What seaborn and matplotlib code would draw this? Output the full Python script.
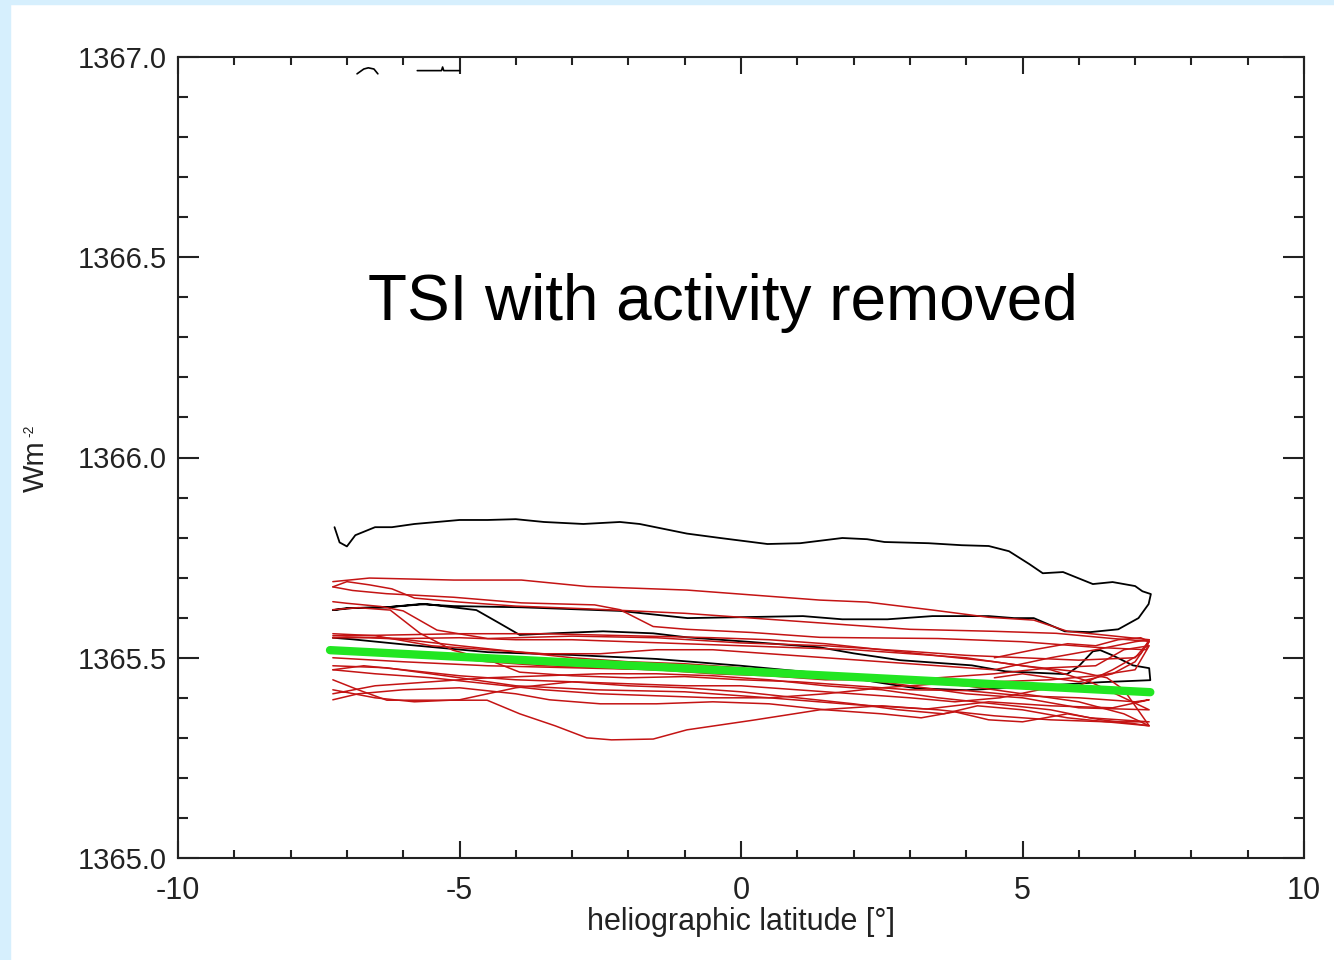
import numpy as np
import pandas as pd
import matplotlib
matplotlib.use("Agg")
import matplotlib.pyplot as plt
from matplotlib.ticker import MultipleLocator, FormatStrFormatter
import seaborn as sns

# ---------------- data (heliographic latitude [deg], TSI [W m^-2]) ----------------
black_lat = [-7.22, -7.13, -7.0, -6.85, -6.5, -6.2, -5.8, -5.0, -4.5, -4.0, -3.5, -2.8, -2.15, -1.8,
             -0.96, -0.37, 0.47, 1.05, 1.80, 2.24, 2.55, 3.33, 3.92, 4.40, 4.76, 5.12, 5.36, 5.72,
             6.25, 6.6, 7.0, 7.13, 7.28, 7.24, 7.06, 6.7, 6.2, 5.75, 5.5, 5.2, 4.85, 4.4, 3.4, 2.6,
             1.8, 1.1, -0.95, -2.15, -3.9, -5.1, -5.7, -6.3, -6.9, -7.25,
             -7.0, -6.3, -5.6, -4.7, -4.3, -3.93, -3.34, -2.45, -1.56, -0.96, 0.21, 1.4, 2.0, 2.82,
             4.1, 4.7, 5.79, 6.0, 6.25, 6.38, 6.6, 6.96, 7.25, 7.27,
             6.4, 5.0, 4.0, 3.1, 2.5, 1.5, 0.0, -1.5, -3.0, -4.5, -5.9, -6.9, -7.25]
black_tsi = [1365.826, 1365.788, 1365.778, 1365.806, 1365.826, 1365.826, 1365.834, 1365.844, 1365.844,
             1365.846, 1365.839, 1365.834, 1365.839, 1365.834, 1365.810, 1365.799, 1365.784, 1365.786,
             1365.799, 1365.796, 1365.789, 1365.786, 1365.781, 1365.779, 1365.766, 1365.734, 1365.711,
             1365.714, 1365.684, 1365.689, 1365.679, 1365.666, 1365.659, 1365.634, 1365.599, 1365.571,
             1365.564, 1365.566, 1365.581, 1365.599, 1365.599, 1365.604, 1365.604, 1365.596, 1365.596,
             1365.604, 1365.599, 1365.617, 1365.626, 1365.629, 1365.634, 1365.626, 1365.624, 1365.619,
             1365.624, 1365.626, 1365.634, 1365.619, 1365.587, 1365.557, 1365.561, 1365.566, 1365.561,
             1365.551, 1365.539, 1365.526, 1365.511, 1365.494, 1365.481, 1365.466, 1365.459, 1365.479,
             1365.516, 1365.519, 1365.506, 1365.481, 1365.474, 1365.444,
             1365.439, 1365.427, 1365.419, 1365.424, 1365.437, 1365.460, 1365.480, 1365.497, 1365.507,
             1365.514, 1365.532, 1365.546, 1365.550]

# fragments of a record that lies almost entirely above the plotted range
black2_lat = [-6.82, -6.70, -6.62, -6.52, -6.45]
black2_tsi = [1366.958, 1366.970, 1366.973, 1366.970, 1366.958]
black3_lat = [-5.75, -5.45, -5.32, -5.30, -5.28, -5.0]
black3_tsi = [1366.966, 1366.966, 1366.966, 1366.975, 1366.966, 1366.966]

red1_lat = [-7.25, -6.6, -5.1, -3.9, -2.74, -0.96, 1.4, 2.24, 3.41, 4.4, 5.2, 5.8, 6.5, 7.25,
            7.2, 6.3, 5.0, 3.5, 2.0, 1.4, 0.2, -0.96, -1.56, -2.15, -2.6, -3.9, -5.1, -6.3, -6.9, -7.25]
red1_tsi = [1365.690, 1365.699, 1365.694, 1365.694, 1365.678, 1365.669, 1365.644, 1365.639, 1365.619,
            1365.601, 1365.594, 1365.566, 1365.556, 1365.545,
            1365.520, 1365.526, 1365.540, 1365.548, 1365.550, 1365.551, 1365.563, 1365.571, 1365.578,
            1365.620, 1365.632, 1365.637, 1365.651, 1365.660, 1365.668, 1365.677]

red2_lat = [-7.25, -7.0, -6.6, -6.2, -5.8, -5.0, -4.0, -2.7, -1.0, 0.2, 1.5, 3.0, 4.5, 5.6, 6.6, 7.25,
            7.0, 6.0, 5.0, 4.0, 3.0, 1.5, 0.0, -1.5, -3.0, -4.5, -5.4, -6.0, -6.4, -7.0, -7.25]
red2_tsi = [1365.677, 1365.690, 1365.682, 1365.672, 1365.649, 1365.639, 1365.629, 1365.622, 1365.611,
            1365.599, 1365.586, 1365.571, 1365.566, 1365.561, 1365.548, 1365.541,
            1365.500, 1365.494, 1365.500, 1365.506, 1365.516, 1365.530, 1365.537, 1365.550, 1365.554,
            1365.548, 1365.569, 1365.617, 1365.628, 1365.636, 1365.640]

red3_lat = [-7.25, -6.8, -6.23, -5.70, -5.12, -4.51, -3.93, -3.0, -2.0, -1.0, 0.0, 1.0, 2.0, 3.0, 4.0,
            5.0, 6.0, 7.0, 7.25, 6.6, 5.5, 4.4, 3.3, 2.0, 0.5, -1.0, -2.6, -4.0, -5.0, -6.3, -7.25]
red3_tsi = [1365.620, 1365.625, 1365.619, 1365.561, 1365.519, 1365.496, 1365.464, 1365.455, 1365.450,
            1365.453, 1365.445, 1365.440, 1365.430, 1365.420, 1365.418, 1365.405, 1365.400, 1365.390,
            1365.395, 1365.375, 1365.380, 1365.390, 1365.372, 1365.383, 1365.400, 1365.415, 1365.420,
            1365.430, 1365.450, 1365.475, 1365.480]

red4_lat = [-7.25, -6.8, -6.29, -5.5, -4.51, -3.93, -3.3, -2.74, -2.3, -1.56, -0.96, 0.21, 1.4, 2.5,
            3.5, 4.5, 5.5, 6.5, 7.25, 6.8, 6.0, 5.0, 4.0, 3.0, 2.0, 1.0, 0.0, -1.5, -3.0, -4.5, -6.0, -7.25]
red4_tsi = [1365.445, 1365.420, 1365.394, 1365.394, 1365.394, 1365.360, 1365.330, 1365.300, 1365.295,
            1365.297, 1365.320, 1365.344, 1365.370, 1365.380, 1365.370, 1365.355, 1365.345, 1365.340,
            1365.330, 1365.360, 1365.390, 1365.410, 1365.430, 1365.440, 1365.450, 1365.460, 1365.465,
            1365.470, 1365.475, 1365.480, 1365.490, 1365.500]

red5_lat = [-7.25, -6.6, -6.0, -5.0, -4.0, -3.0, -2.0, -1.0, 0.0, 1.0, 2.0, 3.0, 4.0, 5.0, 6.0, 7.25,
            6.8, 6.2, 5.5, 4.5, 3.5, 2.5, 1.5, 0.5, -0.5, -2.0, -3.5, -5.0, -6.5, -7.25]
red5_tsi = [1365.550, 1365.550, 1365.546, 1365.530, 1365.515, 1365.500, 1365.490, 1365.485, 1365.475,
            1365.460, 1365.450, 1365.430, 1365.410, 1365.400, 1365.375, 1365.370,
            1365.400, 1365.440, 1365.470, 1365.490, 1365.505, 1365.520, 1365.535, 1365.545, 1365.550,
            1365.555, 1365.560, 1365.560, 1365.556, 1365.555]

red6_lat = [-7.25, -6.5, -5.5, -4.5, -3.5, -2.5, -1.5, -0.5, 0.5, 1.5, 2.5, 3.5, 4.5, 5.5, 6.2, 7.25,
            6.5, 5.8, 5.0, 4.2, 3.6, 2.8, 2.0, 1.0, 0.0, -1.0, -2.0, -3.0, -4.0, -5.0, -5.8, -6.5, -7.25]
red6_tsi = [1365.410, 1365.430, 1365.440, 1365.450, 1365.455, 1365.460, 1365.460, 1365.455, 1365.445,
            1365.430, 1365.420, 1365.400, 1365.385, 1365.370, 1365.350, 1365.340,
            1365.340, 1365.350, 1365.370, 1365.380, 1365.360, 1365.370, 1365.385, 1365.400, 1365.415,
            1365.425, 1365.430, 1365.440, 1365.425, 1365.395, 1365.390, 1365.400, 1365.420]

red7_lat = [-7.25, -6.5, -5.5, -4.5, -3.5, -2.5, -1.5, -0.5, 0.5, 1.5, 2.5, 3.5, 4.5, 5.5, 6.3, 6.8,
            7.25, 7.0, 6.3, 5.5, 4.5, 3.5, 2.5, 1.5, 0.5, -0.5, -1.5, -2.5, -3.5, -4.5, -5.5, -6.5, -7.25]
red7_tsi = [1365.520, 1365.520, 1365.505, 1365.490, 1365.480, 1365.475, 1365.470, 1365.460, 1365.455,
            1365.445, 1365.445, 1365.450, 1365.460, 1365.475, 1365.480, 1365.520, 1365.530,
            1365.470, 1365.455, 1365.445, 1365.440, 1365.435, 1365.425, 1365.410, 1365.400, 1365.400,
            1365.405, 1365.410, 1365.420, 1365.435, 1365.450, 1365.460, 1365.470]

red8_lat = [-7.25, -6.5, -5.5, -4.5, -3.5, -2.5, -1.5, -0.5, 0.5, 1.5, 2.5, 3.5, 4.5, 5.5, 6.3, 7.0,
            7.25, 7.1, 6.6, 6.0, 5.3, 4.6, 3.8, 3.0, 2.0, 1.0, 0.0, -1.0, -2.0, -3.0, -4.0, -5.0, -6.0,
            -6.7, -7.25]
red8_tsi = [1365.560, 1365.555, 1365.530, 1365.520, 1365.510, 1365.510, 1365.520, 1365.520, 1365.510,
            1365.500, 1365.490, 1365.480, 1365.470, 1365.500, 1365.520, 1365.540, 1365.545,
            1365.510, 1365.470, 1365.430, 1365.420, 1365.400, 1365.390, 1365.400, 1365.410, 1365.420,
            1365.430, 1365.430, 1365.435, 1365.440, 1365.445, 1365.455, 1365.470, 1365.480, 1365.470]

red9_lat = [-7.25, -6.8, -6.0, -5.0, -4.0, -3.4, -2.5, -1.5, -0.5, 0.5, 1.5, 2.5, 3.2, 3.8, 4.4, 5.0,
            5.8, 6.4, 7.0, 7.25, 7.0, 6.8, 6.5, 6.0, 5.0, 4.0, 3.0, 2.0, 1.0, 0.0, -1.0, -2.0, -3.0,
            -4.0, -5.0, -6.0, -7.0, -7.25]
red9_tsi = [1365.395, 1365.410, 1365.420, 1365.425, 1365.410, 1365.395, 1365.385, 1365.385, 1365.390,
            1365.385, 1365.370, 1365.360, 1365.350, 1365.365, 1365.345, 1365.340, 1365.360, 1365.345,
            1365.335, 1365.330, 1365.380, 1365.420, 1365.450, 1365.465, 1365.480, 1365.500, 1365.510,
            1365.520, 1365.525, 1365.530, 1365.535, 1365.540, 1365.545, 1365.545, 1365.550, 1365.548,
            1365.552, 1365.550]

red10_lat = [4.5, 5.2, 5.8, 6.3, 6.7, 7.1, 7.25, 7.0, 6.6, 6.0, 5.5, 5.0, 4.5]
red10_tsi = [1365.500, 1365.520, 1365.535, 1365.530, 1365.545, 1365.550, 1365.540, 1365.490,
             1365.460, 1365.440, 1365.450, 1365.460, 1365.450]

fit_lat = [-7.3, 7.27]
fit_tsi = [1365.519, 1365.414]

x_ticks = [-10, -5, 0, 5, 10]
x_ticklabels = ["-10", "-5", "0", "5", "10"]
y_ticks = [1365.0, 1365.5, 1366.0, 1366.5, 1367.0]

title_text = "TSI with activity removed"
x_label = "heliographic latitude [°]"
y_label_main = "Wm"
y_label_sup = "-2"

# ---------------- drawing ----------------
sns.set_style("white")
plt.rcParams["font.family"] = ["Liberation Sans", "DejaVu Sans"]
plt.rcParams["axes.unicode_minus"] = False

fig = plt.figure(figsize=(13.34, 9.6), dpi=100)
fig.patch.set_facecolor("white")
# light blue page border (left and top)
fig.patches.append(plt.Rectangle((0, 0), 10 / 1334, 1, transform=fig.transFigure,
                                 color="#d6effd", zorder=0))
fig.patches.append(plt.Rectangle((0, 1 - 4 / 960), 1, 4 / 960, transform=fig.transFigure,
                                 color="#d6effd", zorder=0))

ax = fig.add_axes([178 / 1334, 1 - 858 / 960, (1304 - 178) / 1334, (858 - 57) / 960])


def draw(lat, tsi, color, lw, z):
    df = pd.DataFrame({"lat": lat, "tsi": tsi})
    sns.lineplot(data=df, x="lat", y="tsi", sort=False, estimator=None, color=color,
                 linewidth=lw, ax=ax, zorder=z)


draw(black_lat, black_tsi, "black", 1.3, 2)
draw(black2_lat, black2_tsi, "black", 1.2, 2)
draw(black3_lat, black3_tsi, "black", 1.2, 2)
for la, ts in [(red1_lat, red1_tsi), (red2_lat, red2_tsi), (red3_lat, red3_tsi),
               (red4_lat, red4_tsi), (red5_lat, red5_tsi), (red6_lat, red6_tsi),
               (red7_lat, red7_tsi), (red8_lat, red8_tsi), (red9_lat, red9_tsi),
               (red10_lat, red10_tsi)]:
    draw(la, ts, "#c41414", 1.1, 3)
draw(fit_lat, fit_tsi, "#22e622", 6.0, 4)

ax.set_xlim(-10, 10)
ax.set_ylim(1365.0, 1367.0)
ax.set_xticks(x_ticks)
ax.set_xticklabels(x_ticklabels)
ax.set_yticks(y_ticks)
ax.yaxis.set_major_formatter(FormatStrFormatter("%.1f"))
ax.xaxis.set_minor_locator(MultipleLocator(1))
ax.yaxis.set_minor_locator(MultipleLocator(0.1))

ax.tick_params(axis="both", which="both", direction="in", top=True, right=True,
               bottom=True, left=True, color="#222222", width=1.5)
ax.tick_params(axis="x", which="major", length=12, labelsize=22, pad=13)
ax.tick_params(axis="x", which="minor", length=6)
ax.tick_params(axis="y", which="major", length=15, labelsize=21, pad=8)
ax.tick_params(axis="y", which="minor", length=7.5)
for lab in ax.get_xticklabels() + ax.get_yticklabels():
    lab.set_color("#222222")

for sp in ax.spines.values():
    sp.set_visible(True)
    sp.set_linewidth(1.5)
    sp.set_color("#222222")

ax.set_xlabel(x_label, fontsize=22, color="#222222", labelpad=1)
ax.set_ylabel("")
fig.text(36 / 1334, 1 - 466 / 960, y_label_main, rotation=90, ha="center", va="center",
         fontsize=21, color="#222222")
fig.text(29 / 1334, 1 - 431 / 960, y_label_sup, rotation=90, ha="center", va="center",
         fontsize=10, color="#222222")

ax.text(-0.32, 1366.387, title_text, ha="center", va="center", fontsize=46, color="black")

fig.savefig("out.png", dpi=100, facecolor=fig.get_facecolor())
